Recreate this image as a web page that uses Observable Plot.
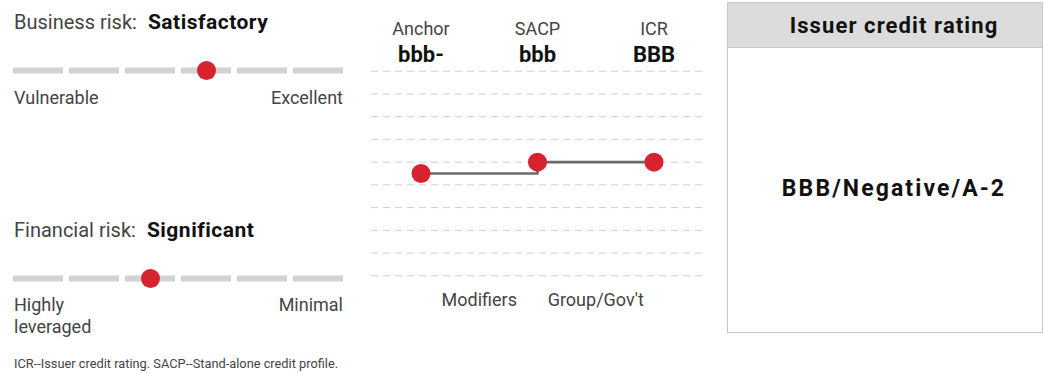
<!DOCTYPE html>
<html>
<head>
<meta charset="utf-8">
<script src="https://cdn.jsdelivr.net/npm/d3@7"></script>
<script src="https://cdn.jsdelivr.net/npm/@observablehq/plot@0.6"></script>
<style>
  html, body { margin: 0; padding: 0; background: #fff; }
  body { font-family: Roboto, "Liberation Sans", sans-serif; color: #444; }
  #wrap { position: relative; width: 1044px; height: 373px; overflow: hidden; }
  .abs { position: absolute; }
  .title { font-size: 20px; line-height: 20px; white-space: nowrap; }
  .title b { color: #111; font-size: 21px; letter-spacing: 0.5px; margin-left: 11px; }
  .ends { display: flex; justify-content: space-between; width: 329px; font-size: 18px; line-height: 22px; }
  #box { left: 727px; top: 2px; width: 314px; height: 329px; border: 1px solid #c8c8c8; }
  #box .hd { height: 44px; padding-left: 18px; background: #dcdcdc; border-bottom: 1px solid #c8c8c8; text-align: center; font-weight: bold; font-size: 22px; letter-spacing: 1.1px; line-height: 46px; color: #111; }
  #box .rt { position: absolute; left: 18px; right: 0; top: 173px; text-align: center; font-weight: bold; font-size: 23px; letter-spacing: 2.1px; line-height: 26px; color: #111; }
  #foot { left: 14px; top: 355px; font-size: 12.8px; line-height: 17px; color: #444; white-space: nowrap; }
</style>
</head>
<body>
<div id="wrap"></div>
<script>
// ---- data ----
const businessLevels = ["Vulnerable", "Weak", "Fair", "Satisfactory", "Strong", "Excellent"];
const businessScore = "Satisfactory";
const financialLevels = ["Highly leveraged", "Aggressive", "Significant", "Intermediate", "Modest", "Minimal"];
const financialScore = "Significant";

const stepNames = ["Anchor", "SACP", "ICR"];
const stepRatings = ["bbb-", "bbb", "BBB"];
const stepLevels = [4.5, 5, 5];          // position on the notch grid
const gridLevels = [0, 1, 2, 3, 4, 5, 6, 7, 8, 9];
const modifierNames = ["Modifiers", "Group/Gov't"];

const issuerRating = "BBB/Negative/A-2";
const footnote = "ICR--Issuer credit rating. SACP--Stand-alone credit profile.";

const RED = "#d7222f";
const FONT = "Roboto, 'Liberation Sans', sans-serif";
const wrap = document.getElementById("wrap");

function add(html, cls, style) {
  const d = document.createElement("div");
  d.className = "abs " + (cls || "");
  Object.assign(d.style, style || {});
  d.innerHTML = html;
  wrap.appendChild(d);
  return d;
}

function gauge(levels, score, top) {
  const p = Plot.plot({
    width: 360, height: 30,
    marginLeft: 11, marginRight: 14, marginTop: 0, marginBottom: 0,
    x: {type: "band", domain: levels, paddingInner: 0.105, paddingOuter: 0, axis: null},
    y: {domain: [0, 1], axis: null},
    style: {fontFamily: FONT, background: "transparent"},
    marks: [
      Plot.tickY(levels, {x: d => d, y: 0.5, stroke: "#d2d2d2", strokeWidth: 6}),
      Plot.dot([score], {x: d => d, y: 0.5, r: 9.5, fill: RED, stroke: "none"})
    ]
  });
  p.style.position = "absolute";
  p.style.left = "0px";
  p.style.top = top + "px";
  wrap.appendChild(p);
}

// Business risk
add("Business risk:<b>" + businessScore + "</b>", "title", {left: "14px", top: "12px"});
gauge(businessLevels, businessScore, 55);
add("<span>" + businessLevels[0] + "</span><span>" + businessLevels[businessLevels.length - 1] + "</span>", "ends", {left: "14px", top: "87px"});

// Financial risk
add("Financial risk:<b>" + financialScore + "</b>", "title", {left: "14px", top: "220px"});
gauge(financialLevels, financialScore, 263);
add("<span>Highly<br>leveraged</span><span>" + financialLevels[financialLevels.length - 1] + "</span>", "ends", {left: "14px", top: "294px"});

// Middle: anchor -> SACP -> ICR
const steps = stepNames.map((n, i) => ({name: n, rating: stepRatings[i], level: stepLevels[i], i}));
const mods = modifierNames.map((n, i) => ({name: n, x: i + 0.5}));
const mid = Plot.plot({
  width: 355, height: 320,
  marginLeft: 11, marginRight: 12, marginTop: 70.7, marginBottom: 44.7,
  x: {domain: [-0.425, 2.425], axis: null},
  y: {domain: [0, 9], axis: null},
  style: {fontFamily: FONT, background: "transparent", overflow: "visible"},
  marks: [
    Plot.ruleY(gridLevels, {stroke: "#cfcfcf", strokeWidth: 1, strokeDasharray: "7,5"}),
    Plot.line(steps, {x: "i", y: "level", curve: "step-after", stroke: "#6a6a6a", strokeWidth: 2.6}),
    Plot.dot(steps, {x: "i", y: "level", r: 9.5, fill: RED, stroke: "none"}),
    Plot.text(steps, {x: "i", text: "name", frameAnchor: "top", dy: -48.5, fontSize: 18, fill: "#444"}),
    Plot.text(steps, {x: "i", text: "rating", frameAnchor: "top", dy: -25, fontSize: 22, fontWeight: "bold", fill: "#111"}),
    Plot.text(mods, {x: "x", text: "name", frameAnchor: "bottom", dy: 30.5, fontSize: 18, fill: "#444"})
  ]
});
mid.style.position = "absolute";
mid.style.left = "360px";
mid.style.top = "0px";
wrap.appendChild(mid);

// Right box
const box = add("", "", {});
box.id = "box";
box.innerHTML = '<div class="hd">Issuer credit rating</div><div class="rt">' + issuerRating + '</div>';

add(footnote, "", {}).id = "foot";
</script>
</body>
</html>
